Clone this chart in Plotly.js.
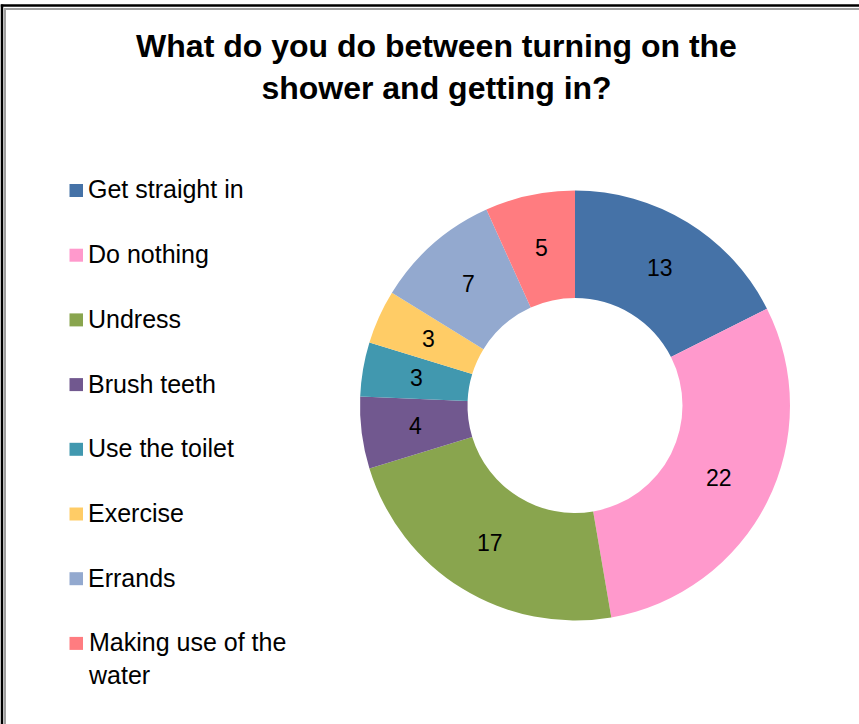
<!DOCTYPE html>
<html>
<head>
<meta charset="utf-8">
<script src="https://cdn.plot.ly/plotly-3.0.1.min.js"></script>
<style>
  html, body { margin: 0; padding: 0; background: #fff; }
  #chart { width: 859px; height: 724px; }
</style>
</head>
<body>
<div id="chart"></div>
<script>
// ---- data ----
const categories = ["Get straight in", "Do nothing", "Undress", "Brush teeth",
                    "Use the toilet", "Exercise", "Errands", "Making use of the water"];
const legendLabels = ["Get straight in", "Do nothing", "Undress", "Brush teeth",
                      "Use the toilet", "Exercise", "Errands", "Making use of the<br>water"];
const counts = [13, 22, 17, 4, 3, 3, 7, 5];
const sliceColors = ["#4572A7", "#FF99CC", "#89A54E", "#71588F",
                     "#4198AF", "#FFCC66", "#93A9CF", "#FF7C80"];
const titleText = "What do you do between turning on the<br>shower and getting in?";

// ---- layout helpers (pixel -> paper, margins are zero) ----
const W = 859, H = 724;
const px = x => x / W;
const py = y => 1 - y / H;

const FONT = "Arial, 'Liberation Sans', sans-serif";

// donut geometry (pixels)
const CX = 575, CY = 405.5, R = 215, HOLE = 0.5;

const shapes = [];
const annotations = [];

// legend built from the data arrays
const legTop = 190.5, legStep = 64.7, LEGFS = 25;
categories.forEach((c, i) => {
  const cy = legTop + i * legStep;
  shapes.push({
    type: "rect", xref: "paper", yref: "paper",
    x0: px(69.5), x1: px(83), y0: py(cy - 6.5), y1: py(cy + 6.5),
    fillcolor: sliceColors[i], line: { width: 0 }
  });
  annotations.push({
    xref: "paper", yref: "paper", x: px(86), y: py(cy - 17),
    xanchor: "left", yanchor: "top", align: "left",
    text: legendLabels[i], showarrow: false,
    font: { family: FONT, size: LEGFS, color: "#000" }
  });
});

// value labels, placed at the middle of the ring at each slice's mid-angle
const total = counts.reduce((a, b) => a + b, 0);
let cum = 0;
const rMid = R * (1 + HOLE) / 2;
counts.forEach((v, i) => {
  const mid = (cum + v / 2) / total * 2 * Math.PI;
  cum += v;
  annotations.push({
    xref: "paper", yref: "paper",
    x: px(CX + rMid * Math.sin(mid)), y: py(CY - rMid * Math.cos(mid)),
    xanchor: "center", yanchor: "middle",
    text: String(v), showarrow: false,
    font: { family: FONT, size: 23, color: "#000" }
  });
});

// frame lines (outer black, inner gray)
shapes.push({ type: "line", xref: "paper", yref: "paper",
  x0: px(2), x1: px(2), y0: 0, y1: py(4.5), line: { color: "#000", width: 2.5 } });
shapes.push({ type: "line", xref: "paper", yref: "paper",
  x0: px(0.8), x1: 1, y0: py(5.5), y1: py(5.5), line: { color: "#000", width: 2.5 } });
shapes.push({ type: "line", xref: "paper", yref: "paper",
  x0: px(5), x1: px(5), y0: 0, y1: py(8), line: { color: "#a0a0a0", width: 2 } });
shapes.push({ type: "line", xref: "paper", yref: "paper",
  x0: px(4), x1: 1, y0: py(9), y1: py(9), line: { color: "#a0a0a0", width: 2 } });

const trace = {
  type: "pie",
  labels: categories,
  values: counts,
  hole: HOLE,
  sort: false,
  direction: "clockwise",
  rotation: 0,
  marker: { colors: sliceColors, line: { width: 0 } },
  textinfo: "none",
  showlegend: false,
  domain: { x: [px(CX - R), px(CX + R)], y: [py(CY + R), py(CY - R)] }
};

const layout = {
  width: W, height: H,
  margin: { l: 0, r: 0, t: 0, b: 0 },
  paper_bgcolor: "#fff",
  plot_bgcolor: "#fff",
  showlegend: false,
  title: {
    text: "<b>" + titleText + "</b>",
    font: { family: FONT, size: 32, color: "#000" },
    x: px(436.5), xanchor: "center",
    y: py(57), yanchor: "middle",
    xref: "paper", yref: "container"
  },
  shapes: shapes,
  annotations: annotations
};

Plotly.newPlot("chart", [trace], layout, { displayModeBar: false, staticPlot: true });
</script>
</body>
</html>
